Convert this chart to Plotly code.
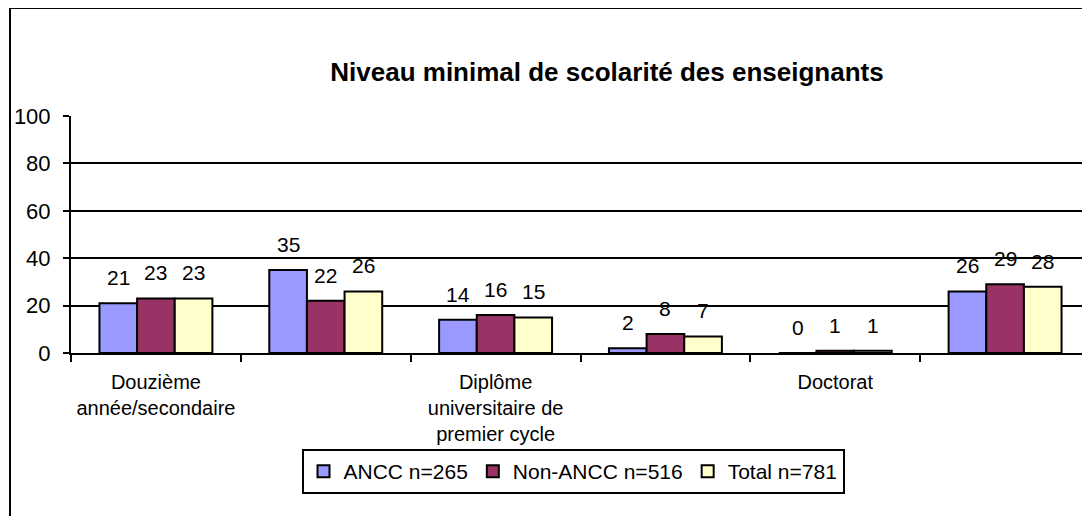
import plotly.graph_objects as go

# ---- data ----
categories = ["Douzième année/secondaire", "", "Diplôme universitaire de premier cycle", "", "Doctorat", ""]
tick_labels = ["Douzième<br>année/secondaire", "", "Diplôme<br>universitaire de<br>premier cycle", "", "Doctorat", ""]
series_names = ["ANCC n=265", "Non-ANCC n=516", "Total n=781"]
ancc = [21, 35, 14, 2, 0, 26]
non_ancc = [23, 22, 16, 8, 1, 29]
total = [23, 26, 15, 7, 1, 28]
colors = ["#9999FF", "#993366", "#FFFFCC"]
y_ticks = [0, 20, 40, 60, 80, 100]

FONT = "Liberation Sans, Arial, sans-serif"
x_pos = list(range(len(categories)))
series = [ancc, non_ancc, total]
bargap = 0.335
bar_w = (1 - bargap) / len(series)

# page body has an 8px margin: figure is drawn from (8, 8)
W, H = 1082, 508
L, T, B, R = 63, 108, 163, 0
PW = W - L - R
PH = H - T - B

def px_x(px):  # window pixel -> paper x
    return (px - 8 - L) / PW

def px_y(py):  # window pixel -> paper y
    return (H - B - (py - 8)) / PH

fig = go.Figure()
for name, vals, col in zip(series_names, series, colors):
    fig.add_trace(go.Bar(
        x=x_pos, y=vals, name=name,
        marker=dict(color=col, line=dict(color="black", width=2)),
    ))

# data labels
for si, vals in enumerate(series):
    off = (si - (len(series) - 1) / 2) * bar_w
    for xi, v in zip(x_pos, vals):
        fig.add_annotation(
            x=xi + off, y=v, xref="x", yref="y",
            text=str(v), showarrow=False,
            yanchor="bottom", yshift=12,
            font=dict(family=FONT, size=21, color="black"),
        )

# outer chart border (extends past the right and bottom edge)
fig.add_shape(type="rect", xref="paper", yref="paper",
              x0=px_x(10), x1=1.2, y0=-1.0, y1=px_y(8),
              line=dict(color="black", width=2), fillcolor="rgba(0,0,0,0)", layer="below")

fig.update_layout(
    width=W, height=H, autosize=False,
    margin=dict(l=L, r=R, t=T, b=B, pad=0),
    paper_bgcolor="white", plot_bgcolor="white",
    barmode="group", bargap=bargap, bargroupgap=0,
    font=dict(family=FONT, size=20, color="black"),
    title=dict(text="<b>Niveau minimal de scolarité des enseignants</b>",
               xref="container", yref="container",
               x=(607 - 8) / W, y=1 - (72 - 8) / H, xanchor="center", yanchor="middle",
               font=dict(family=FONT, size=26, color="black")),
    legend=dict(orientation="h", xref="paper", yref="paper",
                x=px_x(573), y=px_y(449),
                xanchor="center", yanchor="top",
                bordercolor="black", borderwidth=2,
                font=dict(family=FONT, size=21, color="black"),
                itemwidth=30, tracegroupgap=0),
    showlegend=True,
)

fig.update_xaxes(
    range=[-0.5, len(categories) - 0.5],
    tickmode="array", tickvals=x_pos, ticktext=tick_labels,
    ticks="", showgrid=False, zeroline=False,
    showline=True, linecolor="black", linewidth=2,
    tickfont=dict(family=FONT, size=20, color="black"),
    ticklabelstandoff=10,
    minor=dict(tickmode="array", tickvals=[i + 0.5 for i in x_pos[:-1]] + [-0.5],
               ticks="outside", ticklen=7, tickcolor="black", tickwidth=2, showgrid=False),
)
fig.update_yaxes(
    range=[0, 100], tickmode="array", tickvals=y_ticks,
    ticks="outside", ticklen=6, tickcolor="black", tickwidth=2,
    showgrid=True, gridcolor="black", gridwidth=2,
    zeroline=False, showline=True, linecolor="black", linewidth=2,
    tickfont=dict(family=FONT, size=22, color="black"),
    ticklabelstandoff=8,
)

fig.write_html("out.html")
